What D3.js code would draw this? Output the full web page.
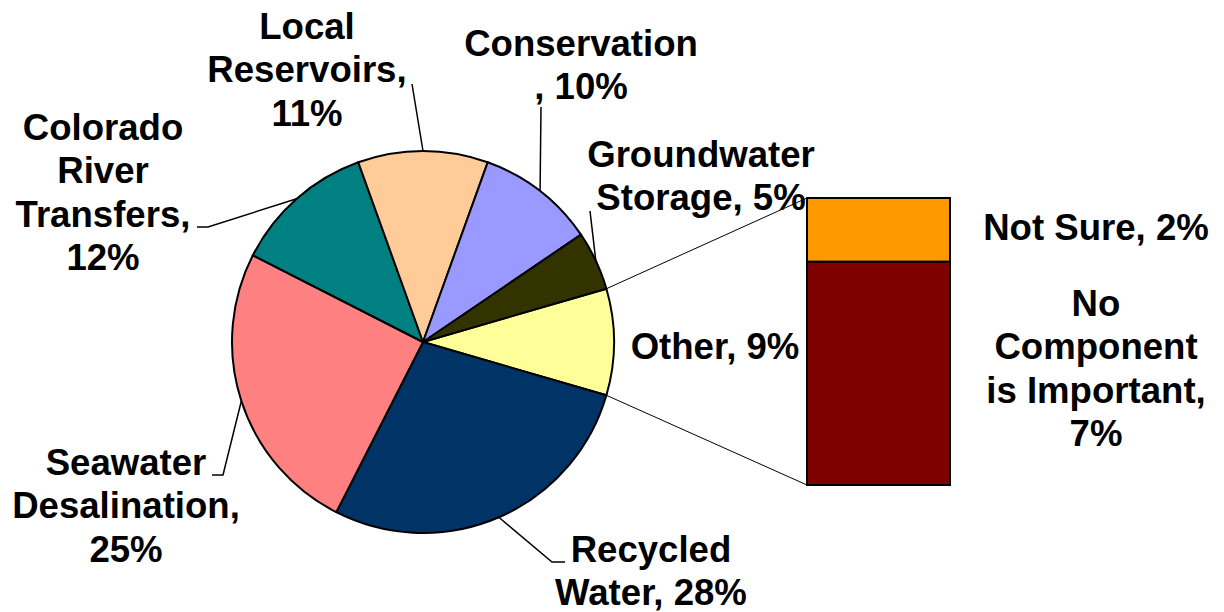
<!DOCTYPE html>
<html><head><meta charset="utf-8">
<script src="https://cdn.jsdelivr.net/npm/d3@7"></script>
<style>
html,body{margin:0;padding:0;background:#fff;}
svg text{font-family:"Liberation Sans",Arial,sans-serif;font-weight:bold;font-size:36.6px;fill:#000;}
</style></head>
<body><svg id="c" width="1224" height="612"></svg>
<script>
// ---- data ----
const categories = ["Other", "Recycled Water", "Seawater Desalination", "Colorado River Transfers", "Local Reservoirs", "Conservation", "Groundwater Storage"];
const values = [9, 28, 25, 12, 11, 10, 5];
const colors = ["#FFFF99", "#003366", "#FF8080", "#008080", "#FFCC99", "#9999FF", "#333300"];
const labelLines = [
  ["Other, 9%"],
  ["Recycled", "Water, 28%"],
  ["Seawater", "Desalination,", "25%"],
  ["Colorado", "River", "Transfers,", "12%"],
  ["Local", "Reservoirs,", "11%"],
  ["Conservation", ", 10%"],
  ["Groundwater", "Storage, 5%"]
];
const barCategories = ["Not Sure", "No Component is Important"];
const barValues = [2, 7];
const barColors = ["#FF9900", "#800000"];
const barLabelLines = [["Not Sure, 2%"], ["No", "Component", "is Important,", "7%"]];

// ---- layout ----
const cx = 423, cy = 342, R = 191;
const lineH = 43.3;
// label anchor: centre x, first baseline y; leader end points (elbow, end)
const labelLayout = [
  {x: 715, y: 359, leader: null},
  {x: 651, y: 562, leader: [[552, 562], [565, 562]]},
  {x: 126, y: 475, leader: [[223, 475], [212, 475]]},
  {x: 103, y: 140, leader: [[208, 227], [197, 227]]},
  {x: 307, y: 39,  leader: [[412, 84]]},
  {x: 581, y: 56,  leader: [[541, 107]]},
  {x: 701, y: 167, leader: [[590, 211]]}
];
const bar = {x: 807, y: 198, w: 143, h: 287};
const barLabelLayout = [{x: 1096, y: 240}, {x: 1096, y: 316}];

const svg = d3.select("#c");
const total = d3.sum(values);
const otherFrac = values[0] / total;
const start = Math.PI / 2 - otherFrac * Math.PI;

const pie = d3.pie().sort(null).value(d => d).startAngle(start).endAngle(start + 2 * Math.PI);
const arcs = pie(values);
const arc = d3.arc().innerRadius(0).outerRadius(R);

const g = svg.append("g").attr("transform", `translate(${cx},${cy})`);
g.selectAll("path").data(arcs).join("path")
  .attr("d", arc)
  .attr("fill", (d, i) => colors[i])
  .attr("stroke", "#000").attr("stroke-width", 2).attr("stroke-linejoin", "round");

const pt = a => [cx + R * Math.sin(a), cy - R * Math.cos(a)];

// connector lines to bar
const o = arcs[0];
const pTop = pt(o.startAngle), pBot = pt(o.endAngle);
svg.append("line").attr("x1", pTop[0]).attr("y1", pTop[1]).attr("x2", bar.x).attr("y2", bar.y)
  .attr("stroke", "#000").attr("stroke-width", 1);
svg.append("line").attr("x1", pBot[0]).attr("y1", pBot[1]).attr("x2", bar.x).attr("y2", bar.y + bar.h)
  .attr("stroke", "#000").attr("stroke-width", 1);

// leader lines
arcs.forEach((d, i) => {
  const L = labelLayout[i];
  if (!L.leader) return;
  const mid = (d.startAngle + d.endAngle) / 2;
  const pts = [pt(mid)].concat(L.leader);
  svg.append("path").attr("d", d3.line()(pts)).attr("fill", "none")
    .attr("stroke", "#000").attr("stroke-width", 1.5);
});

// pie labels
labelLines.forEach((lines, i) => {
  const L = labelLayout[i];
  const t = svg.append("text").attr("text-anchor", "middle");
  lines.forEach((s, k) => t.append("tspan").attr("x", L.x).attr("y", L.y + k * lineH).text(s));
});

// bar of pie
const ys = d3.scaleLinear().domain([0, d3.sum(barValues)]).range([0, bar.h]);
let acc = 0;
barValues.forEach((v, i) => {
  svg.append("rect").attr("x", bar.x).attr("y", bar.y + ys(acc)).attr("width", bar.w).attr("height", ys(v))
    .attr("fill", barColors[i]).attr("stroke", "#000").attr("stroke-width", 2);
  acc += v;
});
barLabelLines.forEach((lines, i) => {
  const L = barLabelLayout[i];
  const t = svg.append("text").attr("text-anchor", "middle");
  lines.forEach((s, k) => t.append("tspan").attr("x", L.x).attr("y", L.y + k * lineH).text(s));
});
</script></body></html>
